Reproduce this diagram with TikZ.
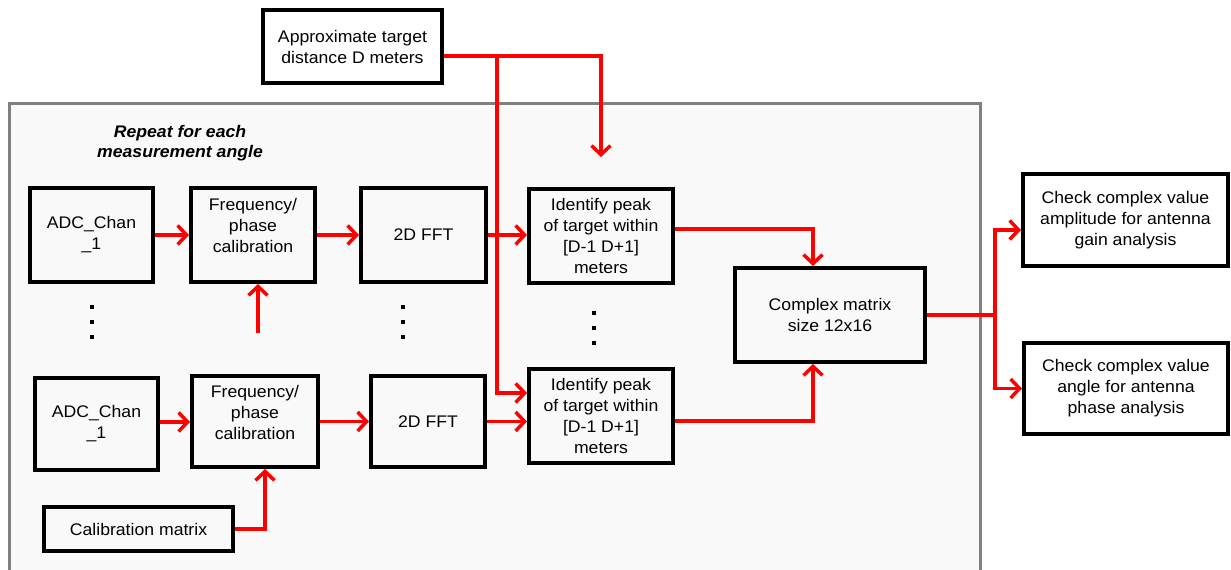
\documentclass[tikz,border=0pt]{standalone}
\usepackage{fontspec}
\setmainfont{Liberation Sans}[FakeStretch=1.05]
\usetikzlibrary{arrows.meta}
\definecolor{flowred}{RGB}{255,0,0}
\definecolor{panelgray}{RGB}{249,249,249}
\definecolor{panelline}{RGB}{128,128,128}
\begin{document}
\begin{tikzpicture}[x=1pt,y=-1pt,
  lbl/.style={font=\fontsize{16.8pt}{21pt}\selectfont, align=center, inner sep=0pt, text=black},
  box/.style={lbl, draw=black, line width=4pt},
  flow/.style={draw=flowred, line width=3.5pt},
  arr/.style={flow, -{Straight Barb[length=9pt,width=19pt]}},
  ell/.style={fill=black}
]
% page and the shaded processing panel
\fill[white] (0,0) rectangle (1231,570);
\useasboundingbox (0,0) rectangle (1231,570);
\begin{scope}
  \clip (0,0) rectangle (1231,570);
  \draw[panelline, fill=panelgray, line width=3pt] (9,103) rectangle (980,600);
\end{scope}

% header of the repeated block
\node[lbl, font=\fontsize{16.8pt}{20pt}\selectfont\bfseries\itshape] (hdr) at (180,143) {Repeat for each\\measurement angle};

% input from outside the loop
\node[box, minimum width=179pt, minimum height=73pt] (approx) at (352.5,46.5) {Approximate target\\distance D meters};

% first channel chain
\node[box, minimum width=123pt, minimum height=94pt] (adc1) at (91.5,235) {ADC\_Chan\\\_1};
\node[box, minimum width=124pt, minimum height=94pt] (freq1) at (253,235) {};
\node[lbl] (freq1t) at ([yshift=10pt]freq1.center) {Frequency/\\phase\\calibration};
\node[box, minimum width=125pt, minimum height=94pt] (fft1) at (423.5,235) {2D FFT};
\node[box, minimum width=144pt, minimum height=94pt] (id1) at (601,236) {Identify peak\\of target within\\{[D-1 D+1]}\\meters};

% last channel chain
\node[box, minimum width=123pt, minimum height=92pt] (adc2) at (96.5,424) {ADC\_Chan\\\_1};
\node[box, minimum width=126pt, minimum height=91pt] (freq2) at (255,421.5) {};
\node[lbl] (freq2t) at ([yshift=9pt]freq2.center) {Frequency/\\phase\\calibration};
\node[box, minimum width=114pt, minimum height=91pt] (fft2) at (428,421.5) {2D FFT};
\node[box, minimum width=144pt, minimum height=94pt] (id2) at (601,416) {Identify peak\\of target within\\{[D-1 D+1]}\\meters};
\node[box, minimum width=189pt, minimum height=44pt] (calib) at (138.5,529) {Calibration matrix};

% combined result and analyses
\node[box, minimum width=190pt, minimum height=94pt] (cm) at (830,315) {Complex matrix\\size 12x16};
\node[box, minimum width=205pt, minimum height=92pt] (chk1) at (1125.5,220) {Check complex value\\amplitude for antenna\\gain analysis};
\node[box, minimum width=204pt, minimum height=91pt] (chk2) at (1126,388.5) {Check complex value\\angle for antenna\\phase analysis};

% vertical ellipses between the chains
\foreach \x/\y in {92/307,92/322,92/337,403/307,403/322,403/337,594/313,594/328,594/343}
  \fill[ell] (\x-2.2,\y-2.2) rectangle (\x+2.2,\y+2.2);

% signal flow
\draw[arr] (adc1) -- (freq1);
\draw[arr] (freq1) -- (fft1);
\draw[arr] (fft1.east) -- (fft1.east -| id1.west);
\coordinate (calup) at (258,333);
\draw[arr] (calup) -- (calup |- freq1.south);

\draw[arr] ([yshift=2pt]adc2.east) -- ([yshift=2pt]adc2.east -| freq2.west);
\draw[arr] (freq2.east) -- (freq2.east -| fft2.west);
\draw[arr] (fft2.east) -- (fft2.east -| id2.west);
\draw[arr] (calib.east) -| ([xshift=10pt]freq2.south);

% target distance distribution
\coordinate (dtip) at (601,157);
\coordinate (fork) at (497,56);
\draw[arr] ([yshift=-9.5pt]approx.east) -| (dtip);
\draw[arr] (fork) |- ([yshift=23pt]id2.west);

% peaks into the complex matrix
\draw[arr] ([yshift=7pt]id1.east) -| ([xshift=-17pt]cm.north);
\draw[arr] ([yshift=-5pt]id2.east) -| ([xshift=-17pt]cm.south);

% matrix to the two analyses
\coordinate (split) at (995,315);
\draw[flow] (cm.east) -- (split);
\draw[arr] (split) |- ([yshift=-10pt]chk1.west);
\draw[arr] (split) |- (chk2.west);
\end{tikzpicture}
\end{document}
